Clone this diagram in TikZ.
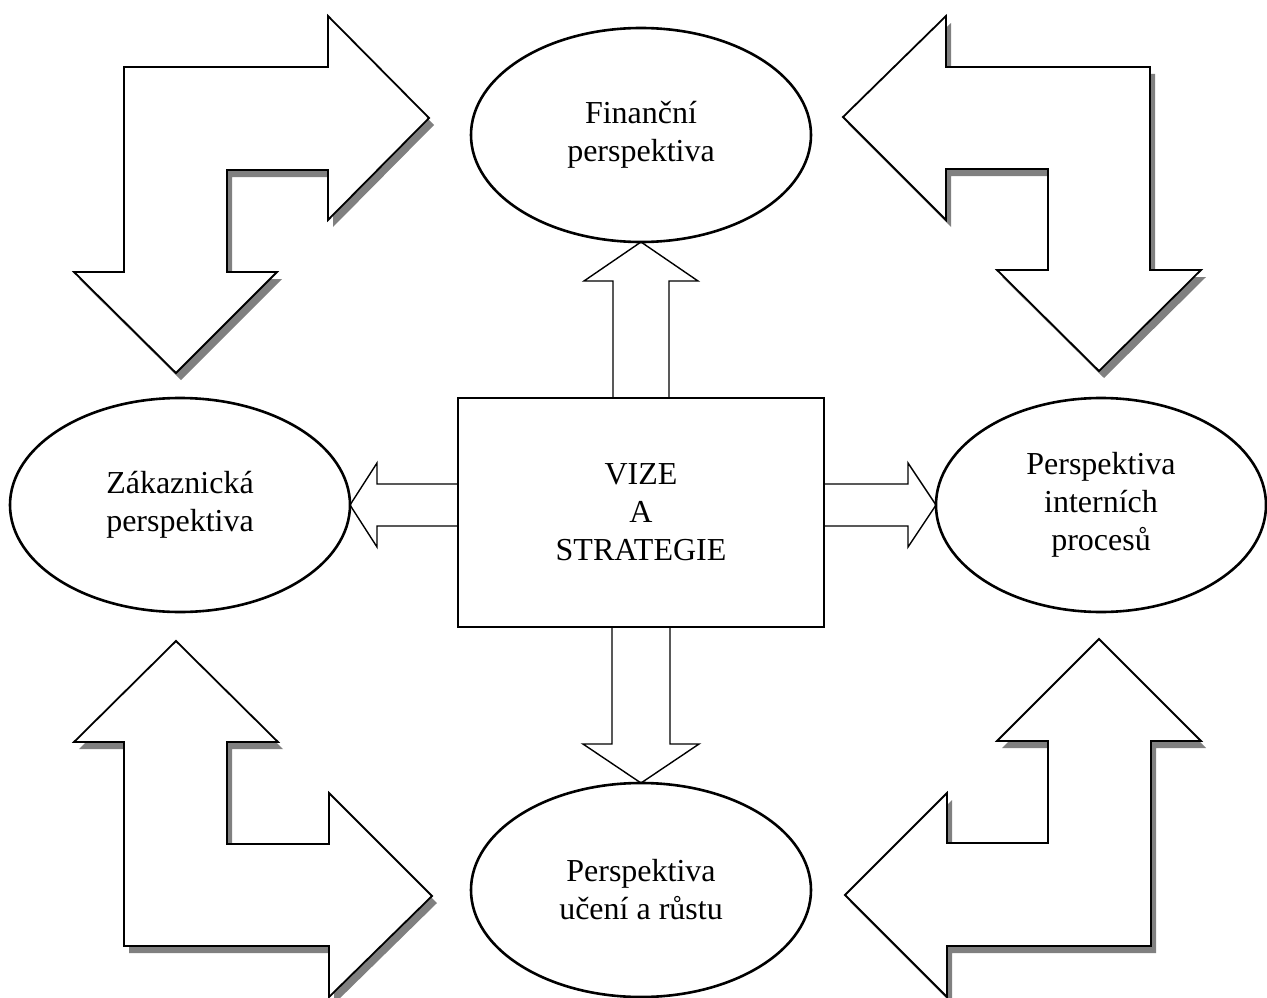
\documentclass[tikz,border=0pt]{standalone}
\usepackage{fontspec}
\setmainfont{Liberation Serif}
\usetikzlibrary{shapes.geometric,shadows,calc,positioning}

\begin{document}
\begin{tikzpicture}[
			x=1pt, y=-1pt,
			persp/.style={
				draw,
				ellipse,
				line width=2.6pt,
				align=center,
				inner sep=0pt,
				outer sep=0pt,
				minimum width=340pt,
				minimum height=214pt,
				font=\fontsize{32}{38}\selectfont
			},
			core/.style={
				draw,
				rectangle,
				line width=2.6pt,
				align=center,
				outer sep=0pt,
				minimum width=366pt,
				minimum height=229pt,
				font=\fontsize{32}{38}\selectfont
			},
			link/.style={
				draw,
				line width=1.4pt,
				line join=miter
			},
			turnarrow/.style={
				draw,
				fill=white,
				line width=1.8pt,
				line join=miter,
				drop shadow={shadow xshift=5pt,shadow yshift=-7pt,fill=black!50,opacity=1}
			}
			]
			
			\useasboundingbox (0,0) rectangle (1267,998);
			
			\node[core] (vize) at (641,512.5)
			{VIZE\\A\\STRATEGIE};
			
			\node[persp,above=156pt of vize] (fin)
			{Finanční\\perspektiva};
			
			\node[persp,below=156pt of vize] (ucen)
			{Perspektiva\\učení a růstu};
			
			\node[persp,left=108pt of vize,yshift=7.5pt] (zak)
			{Zákaznická\\perspektiva};
			
			\node[persp,right=112pt of vize,yshift=7.5pt,minimum width=330pt] (intp)
			{Perspektiva\\interních\\procesů};
			
			% arrows from the box
			\draw[link] ($(vize.north)+(-28,0)$) -- ($(fin.south)+(-28,39)$) -- ($(fin.south)+(-57,39)$) -- (fin.south)
			-- ($(fin.south)+(57,39)$) -- ($(fin.south)+(28,39)$) -- ($(vize.north)+(28,0)$);
			\draw[link] ($(vize.south)+(-29,0)$) -- ($(ucen.north)+(-29,-39)$) -- ($(ucen.north)+(-58,-39)$) -- (ucen.north)
			-- ($(ucen.north)+(58,-39)$) -- ($(ucen.north)+(29,-39)$) -- ($(vize.south)+(29,0)$);
			\draw[link] ($(zak.east -| vize.west)+(0,-21)$) -- ($(zak.east)+(27,-21)$) -- ($(zak.east)+(27,-42)$) -- (zak.east)
			-- ($(zak.east)+(27,42)$) -- ($(zak.east)+(27,21)$) -- ($(zak.east -| vize.west)+(0,21)$);
			\draw[link] ($(intp.west -| vize.east)+(0,-21)$) -- ($(intp.west)+(-28,-21)$) -- ($(intp.west)+(-28,-42)$) -- (intp.west)
			-- ($(intp.west)+(-28,42)$) -- ($(intp.west)+(-28,21)$) -- ($(intp.west -| vize.east)+(0,21)$);
			
			% corner arrows
			\path[turnarrow] (124,67) -- (328,67) -- (328,16) -- (429,118) -- (328,220) -- (328,170) -- (227,170)
			-- (227,272) -- (277,272) -- (176,373) -- (74,272) -- (124,272) -- cycle;
			\path[turnarrow] (843,117) -- (946,16) -- (946,67) -- (1150,67) -- (1150,270) -- (1201,270) -- (1099,371)
			-- (997,270) -- (1048,270) -- (1048,169) -- (946,169) -- (946,220) -- cycle;
			\path[turnarrow] (176,641) -- (278,742) -- (227,742) -- (227,844) -- (329,844) -- (329,793) -- (432,896)
			-- (329,997) -- (329,946) -- (124,946) -- (124,742) -- (74,742) -- cycle;
			\path[turnarrow] (1099,639) -- (1201,741) -- (1151,741) -- (1151,946) -- (947,946) -- (947,997) -- (845,895)
			-- (947,793) -- (947,843) -- (1048,843) -- (1048,741) -- (997,741) -- cycle;
			
		\end{tikzpicture}
\end{document}
